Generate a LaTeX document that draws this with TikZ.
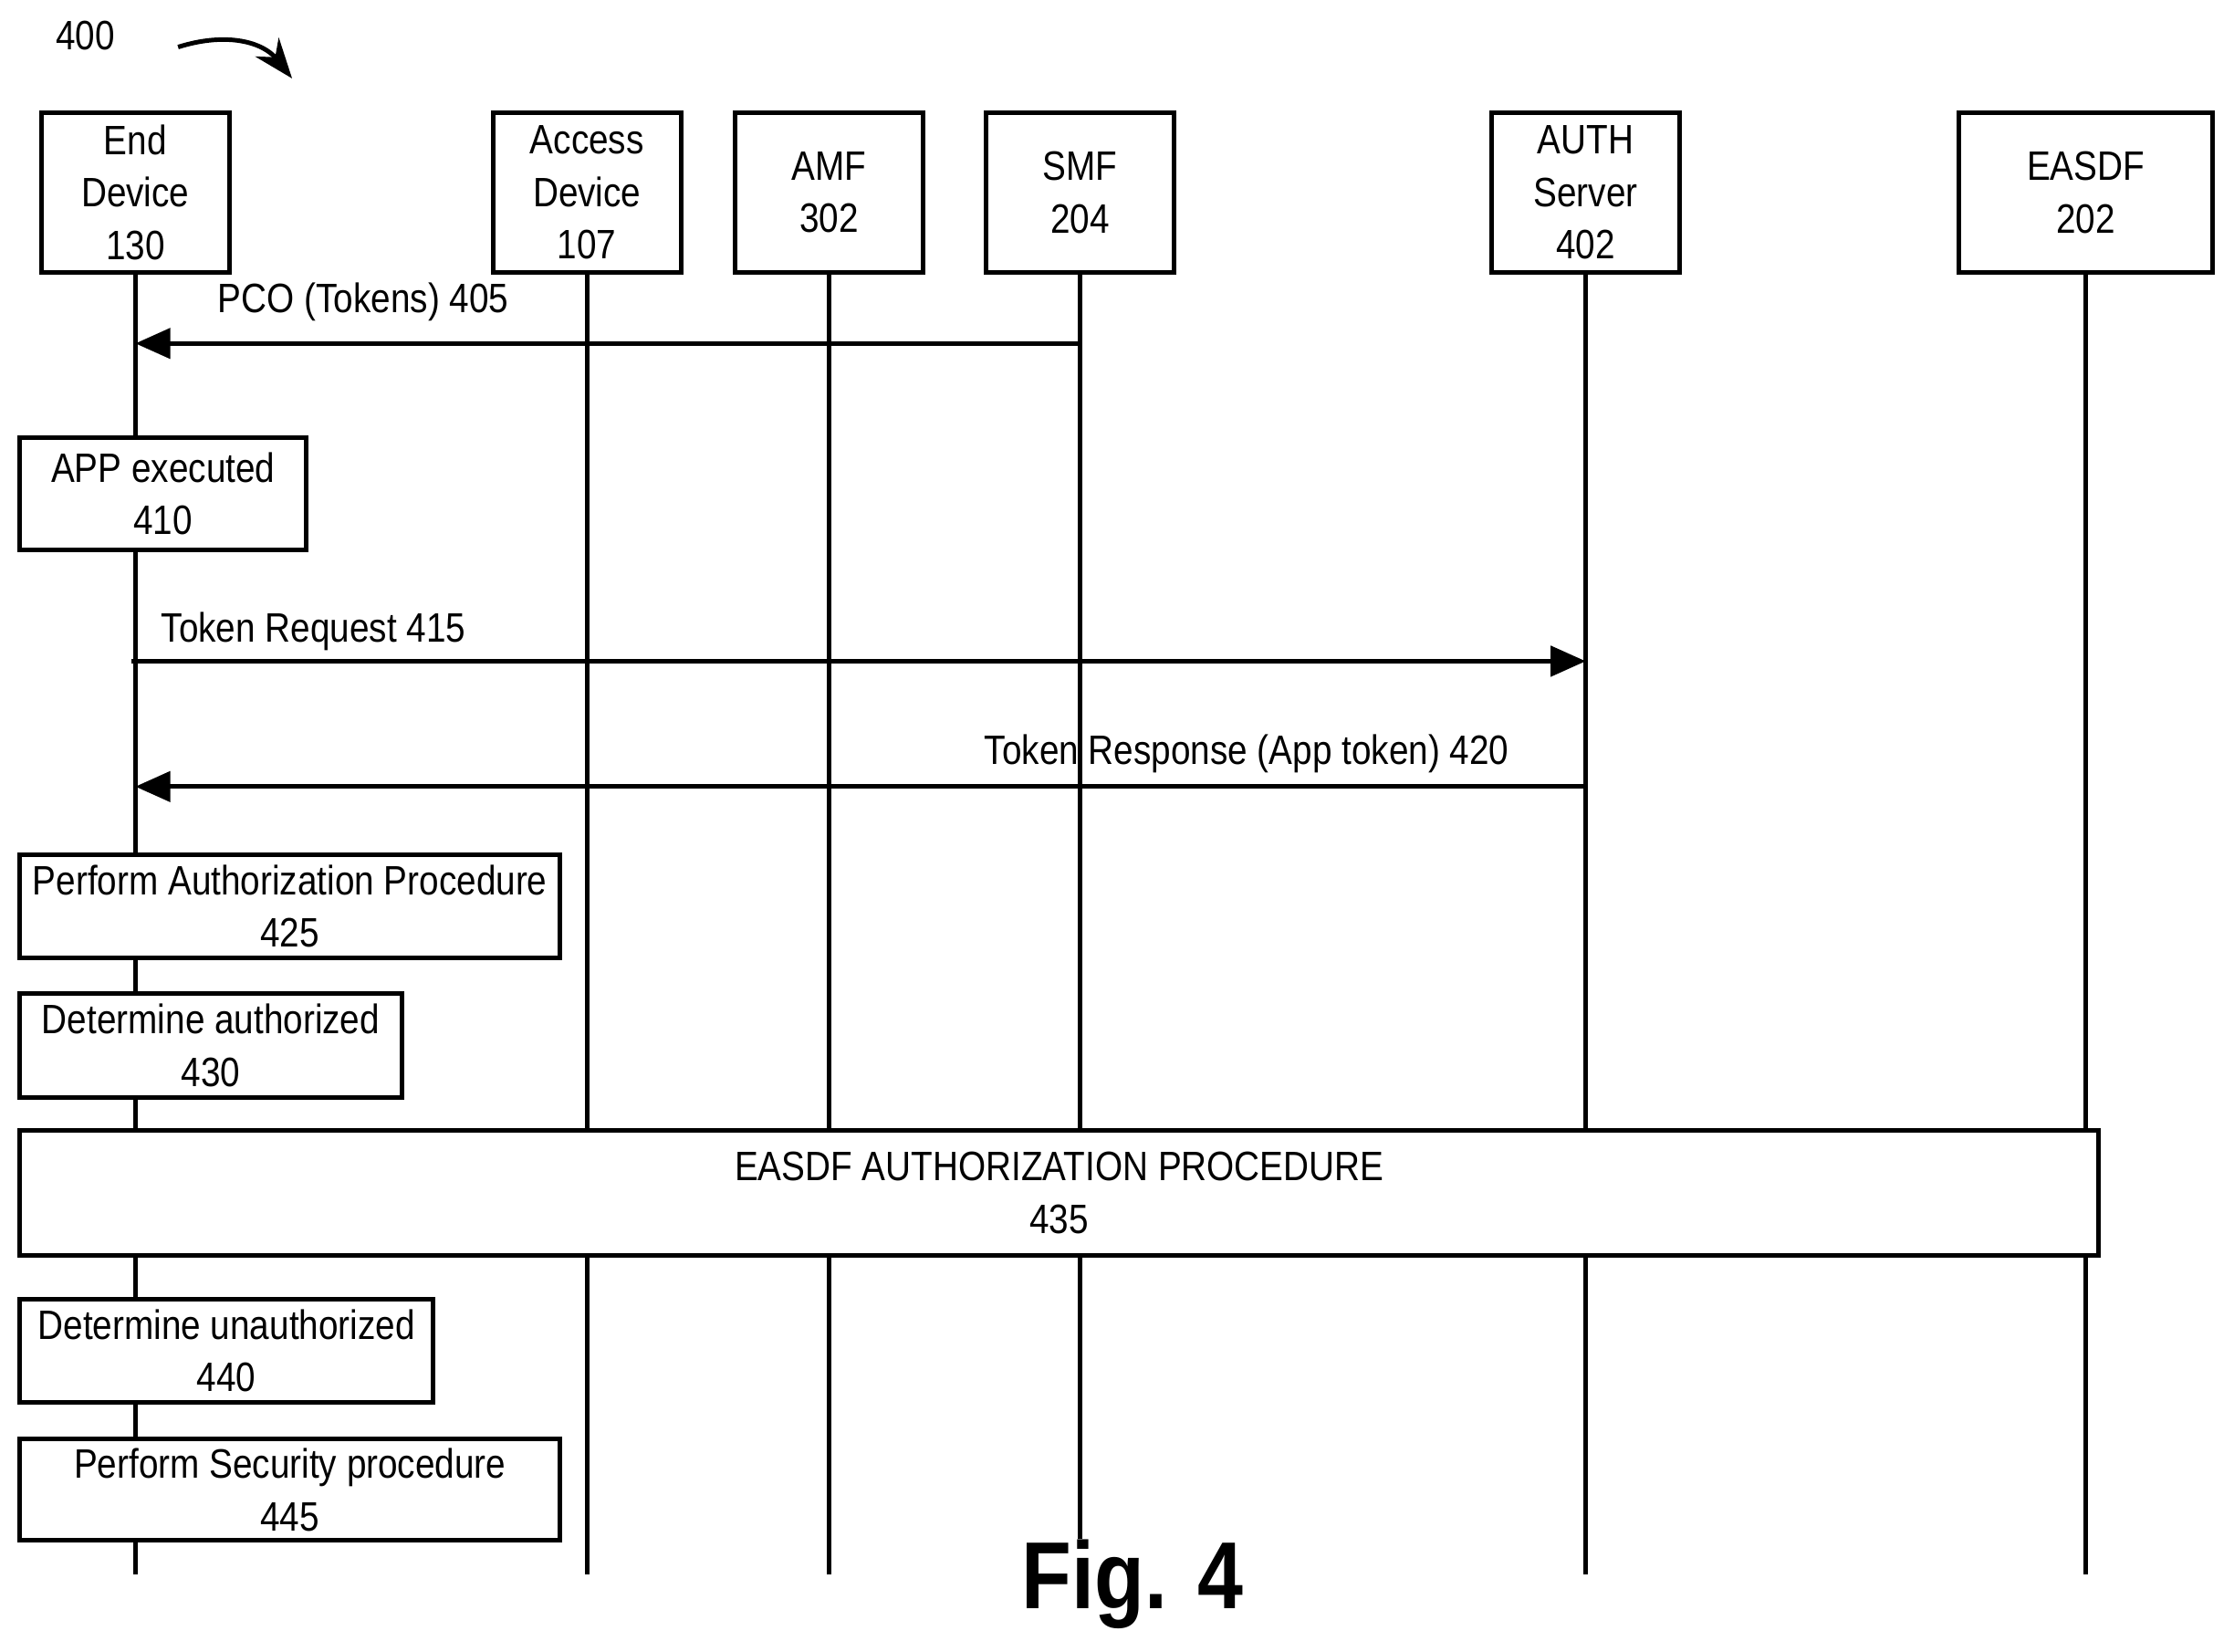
\documentclass[tikz,border=0pt]{standalone}
\usepackage{fontspec}
\setmainfont{Liberation Sans}[FakeStretch=0.86]
\usetikzlibrary{arrows.meta}
\begin{document}
\begin{tikzpicture}[x=0.01cm,y=-0.01cm,
  ln/.style={line width=0.9pt},
  msg/.style={ln,-{Triangle[length=7pt,width=6pt]}},
  txt/.style={font=\fontsize{8.2pt}{10.5pt}\selectfont,align=center},
  bx/.style={ln,draw,fill=white}]
\useasboundingbox (0,0) rectangle (1568,1159);
\node[txt] (n400) at (60,25) {400};
\draw[ln,-{Stealth[length=8pt,width=6pt]}] (125,33) .. controls (160,22) and (185,30) .. (205,55);
% heads
\foreach \n/\a/\b/\t in {ed/29/161/{End\\Device\\130},ad/346/478/{Access\\Device\\107},amf/516/648/{AMF\\302},smf/692/824/{SMF\\204},auth/1047/1179/{AUTH\\Server\\402},ea/1375/1553/{EASDF\\202}}{
  \draw[ln] (\a,79) rectangle (\b,191);
  \node[txt] (\n) at ({(\a+\b)/2},135) {\t};
}
\foreach \x/\e in {95/1105,412/1105,582/1105,758/1080,1113/1105,1464/1105}
  \draw[ln] (\x,191) -- (\x,\e);
\coordinate (p1) at (758,241); \coordinate (p2) at (95,241);
\draw[msg] (p1) -- (p2);
\node[txt] at (255,212) {PCO (Tokens) 405};
\coordinate (q1) at (92,464); \coordinate (q2) at (1113,464);
\draw[msg] (q1) -- (q2);
\node[txt] at (220,443) {Token Request 415};
\coordinate (r1) at (1113,552); \coordinate (r2) at (95,552);
\draw[msg] (r1) -- (r2);
\node[txt] at (875,529) {Token Response (App token) 420};
% action boxes
\foreach \n/\a/\b/\c/\d/\t in {b410/14/215/307/386/{APP executed\\410},b425/14/393/600/672/{Perform Authorization Procedure\\425},b430/14/282/697/770/{Determine authorized\\430},b440/14/304/912/984/{Determine unauthorized\\440},b445/14/393/1010/1081/{Perform Security procedure\\445},b435/14/1473/793/881/{EASDF AUTHORIZATION PROCEDURE\\435}}{
  \draw[bx] (\a,\c) rectangle (\b,\d);
  \node[txt] (\n) at ({(\a+\b)/2},{(\c+\d)/2}) {\t};
}
\node[font=\fontsize{19pt}{22pt}\selectfont\bfseries] (fig) at (795,1112) {Fig. 4};
\end{tikzpicture}
\end{document}
